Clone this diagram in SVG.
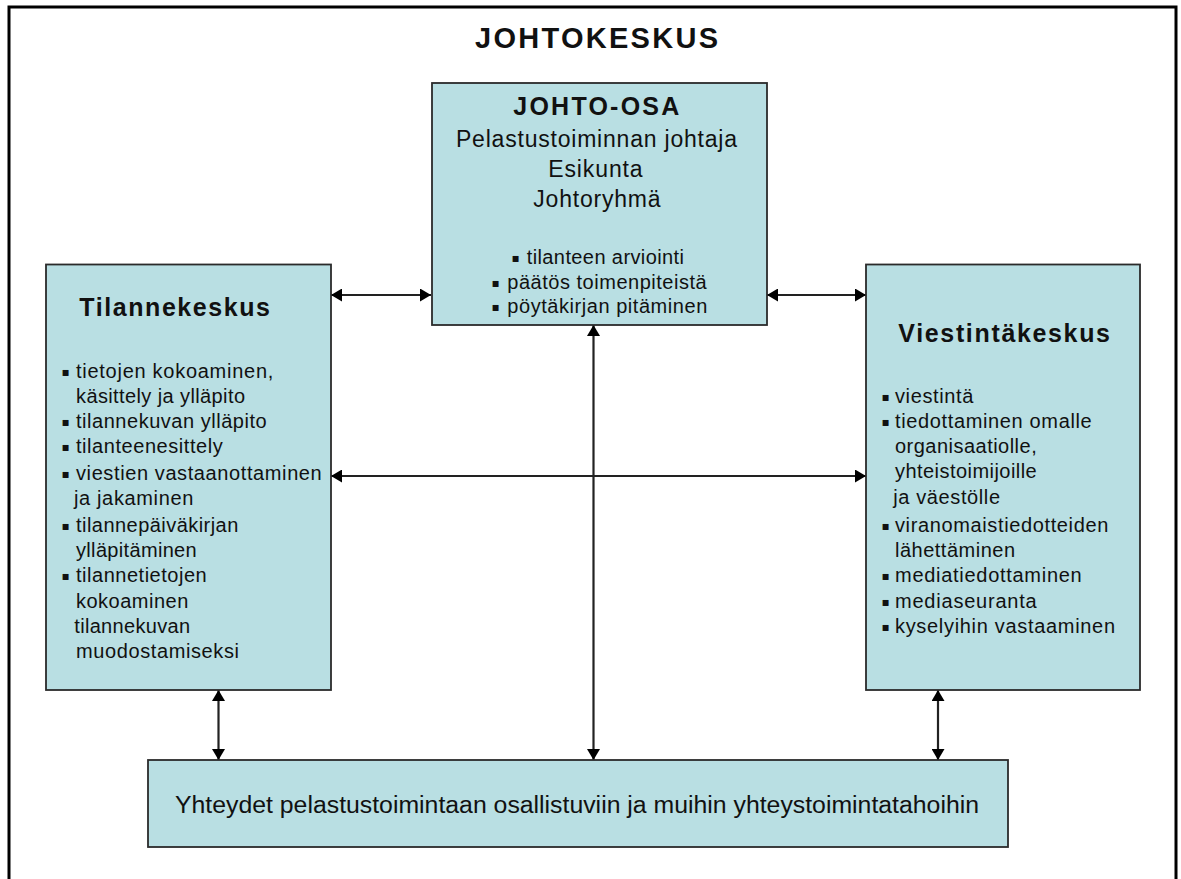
<svg xmlns="http://www.w3.org/2000/svg" width="1181" height="879" viewBox="0 0 1181 879">
  <style>
    .box { fill: #B9DFE3; stroke: #2b2b2b; stroke-width: 1.8; }
    .t { font-family: "Liberation Sans", Arial, sans-serif; fill: #111; font-size: 20px; }
    .c { font-size: 23px; }
    .h { font-weight: bold; font-size: 25px; }
    .bul { font-family: "DejaVu Sans", sans-serif; font-size: 12px; fill: #111; }
    .link { stroke: #222; stroke-width: 2.2; fill: none; marker-start: url(#head); marker-end: url(#head); }
  </style>
  <defs>
    <marker id="head" viewBox="0 0 11 13" refX="11" refY="6.5" markerWidth="11" markerHeight="13" markerUnits="userSpaceOnUse" orient="auto-start-reverse">
      <path d="M0,0 L11,6.5 L0,13 Z" fill="#000"/>
    </marker>
  </defs>

  <rect width="1181" height="879" fill="#fff"/>
  <!-- page frame -->
  <rect x="9" y="7" width="1167" height="900" fill="none" stroke="#000" stroke-width="3"/>

  <text class="t" x="475" y="48" style="font-size:29px;font-weight:bold" textLength="243" lengthAdjust="spacing">JOHTOKESKUS</text>

  <!-- connectors -->
  <g id="connectors">
    <line class="link" x1="331" y1="295" x2="431" y2="295"/>
    <line class="link" x1="767" y1="295" x2="866" y2="295"/>
    <line class="link" x1="331" y1="476" x2="866" y2="476"/>
    <line class="link" x1="218.5" y1="690" x2="218.5" y2="760"/>
    <line class="link" x1="593.5" y1="325" x2="593.5" y2="760"/>
    <line class="link" x1="938" y1="690" x2="938" y2="760"/>
  </g>

  <!-- command section -->
  <g id="johto-osa">
    <rect class="box" x="432" y="83" width="335" height="242"/>
    <text class="t" x="513.3" y="115" style="font-size:25px;font-weight:bold" textLength="166" lengthAdjust="spacing">JOHTO-OSA</text>
    <text class="t c" x="456" y="147" textLength="281" lengthAdjust="spacing">Pelastustoiminnan johtaja</text>
    <text class="t c" x="548.3" y="177" textLength="94.3" lengthAdjust="spacing">Esikunta</text>
    <text class="t c" x="533.3" y="207" textLength="127.3" lengthAdjust="spacing">Johtoryhmä</text>
    <text class="bul" x="511.5" y="262">▪</text>
    <text class="t" x="526.7" y="264" textLength="157.3" lengthAdjust="spacing">tilanteen arviointi</text>
    <text class="bul" x="491.5" y="287">▪</text>
    <text class="t" x="507.3" y="289" textLength="199.4" lengthAdjust="spacing">päätös toimenpiteistä</text>
    <text class="bul" x="491.5" y="311">▪</text>
    <text class="t" x="507.3" y="313" textLength="200" lengthAdjust="spacing">pöytäkirjan pitäminen</text>
  </g>

  <!-- situation centre -->
  <g id="tilannekeskus">
    <rect class="box" x="46" y="264.5" width="285" height="425.5"/>
    <text class="t h" x="79.3" y="316" textLength="190.7" lengthAdjust="spacing">Tilannekeskus</text>
    <text class="bul" x="61.5" y="376">▪</text>
    <text class="t" x="76" y="378" textLength="197.3" lengthAdjust="spacing">tietojen kokoaminen,</text>
    <text class="t" x="76" y="403" textLength="169" lengthAdjust="spacing">käsittely ja ylläpito</text>
    <text class="bul" x="61.5" y="426">▪</text>
    <text class="t" x="76" y="428" textLength="190.7" lengthAdjust="spacing">tilannekuvan ylläpito</text>
    <text class="bul" x="61.5" y="451">▪</text>
    <text class="t" x="76" y="453" textLength="146.7" lengthAdjust="spacing">tilanteenesittely</text>
    <text class="bul" x="61.5" y="478">▪</text>
    <text class="t" x="76" y="480" textLength="245.7" lengthAdjust="spacing">viestien vastaanottaminen</text>
    <text class="t" x="74" y="505" textLength="119.3" lengthAdjust="spacing">ja jakaminen</text>
    <text class="bul" x="61.5" y="529.5">▪</text>
    <text class="t" x="76" y="531.5" textLength="162.3" lengthAdjust="spacing">tilannepäiväkirjan</text>
    <text class="t" x="76" y="556.5" textLength="120.7" lengthAdjust="spacing">ylläpitäminen</text>
    <text class="bul" x="61.5" y="579.5">▪</text>
    <text class="t" x="76" y="581.5" textLength="130.7" lengthAdjust="spacing">tilannetietojen</text>
    <text class="t" x="76" y="608" textLength="112.3" lengthAdjust="spacing">kokoaminen</text>
    <text class="t" x="74.3" y="633" textLength="115.7" lengthAdjust="spacing">tilannekuvan</text>
    <text class="t" x="76" y="658" textLength="163" lengthAdjust="spacing">muodostamiseksi</text>
  </g>

  <!-- communications centre -->
  <g id="viestintakeskus">
    <rect class="box" x="866" y="264.5" width="274" height="425.5"/>
    <text class="t h" x="898.3" y="341.7" textLength="211.7" lengthAdjust="spacing">Viestintäkeskus</text>
    <text class="bul" x="881.5" y="401">▪</text>
    <text class="t" x="895" y="403" textLength="78.3" lengthAdjust="spacing">viestintä</text>
    <text class="bul" x="881.5" y="426">▪</text>
    <text class="t" x="895" y="428" textLength="196.7" lengthAdjust="spacing">tiedottaminen omalle</text>
    <text class="t" x="895" y="453" textLength="141.7" lengthAdjust="spacing">organisaatiolle,</text>
    <text class="t" x="895" y="478" textLength="141.7" lengthAdjust="spacing">yhteistoimijoille</text>
    <text class="t" x="893.3" y="504" textLength="106.7" lengthAdjust="spacing">ja väestölle</text>
    <text class="bul" x="881.5" y="529.5">▪</text>
    <text class="t" x="895" y="531.5" textLength="213.3" lengthAdjust="spacing">viranomaistiedotteiden</text>
    <text class="t" x="895" y="556.5" textLength="120" lengthAdjust="spacing">lähettäminen</text>
    <text class="bul" x="881.5" y="579.5">▪</text>
    <text class="t" x="895" y="581.5" textLength="186.7" lengthAdjust="spacing">mediatiedottaminen</text>
    <text class="bul" x="881.5" y="606">▪</text>
    <text class="t" x="895" y="608" textLength="141.7" lengthAdjust="spacing">mediaseuranta</text>
    <text class="bul" x="881.5" y="631">▪</text>
    <text class="t" x="895" y="633" textLength="220" lengthAdjust="spacing">kyselyihin vastaaminen</text>
  </g>

  <!-- external links -->
  <g id="yhteydet">
    <rect class="box" x="148" y="760" width="860" height="87"/>
    <text class="t" x="175" y="813" style="font-size:23px" textLength="804" lengthAdjust="spacingAndGlyphs">Yhteydet pelastustoimintaan osallistuviin ja muihin yhteystoimintatahoihin</text>
  </g>
</svg>
